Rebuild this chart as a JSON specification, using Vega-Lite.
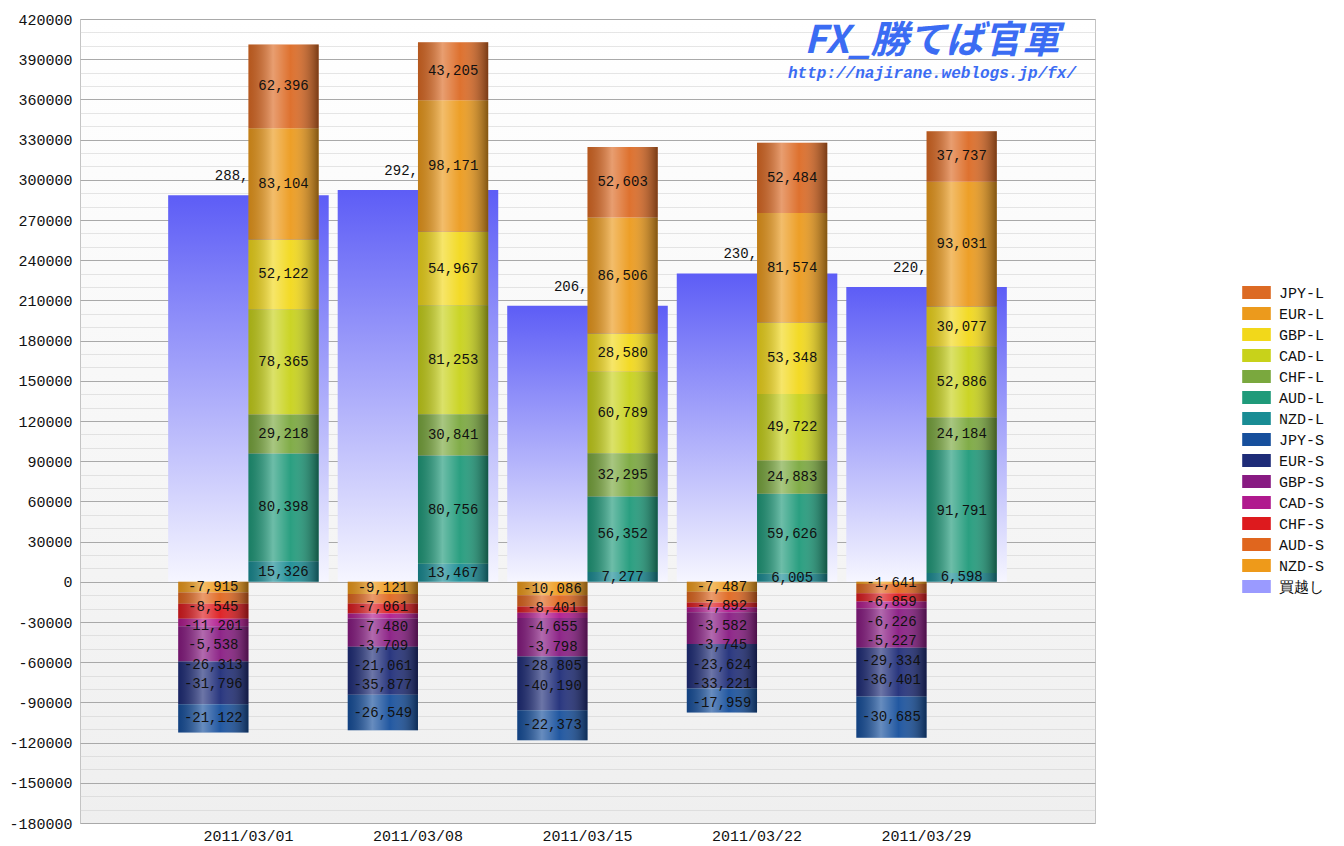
{
  "$schema": "https://vega.github.io/schema/vega-lite/v6.json",
  "autosize": "none",
  "width": 1015,
  "height": 804,
  "padding": {"left": 80, "top": 19, "right": 249, "bottom": 23},
  "background": "white",
  "title": {
    "text": "FX_勝てば官軍",
    "subtitle": "http://najirane.weblogs.jp/fx/",
    "anchor": "end",
    "align": "center",
    "frame": "group",
    "orient": "top",
    "dx": -163,
    "offset": -69,
    "font": "Noto Sans CJK JP",
    "fontSize": 38,
    "fontWeight": "bold",
    "fontStyle": "italic",
    "color": "#3b6cf3",
    "subtitleFont": "Liberation Mono",
    "subtitleFontSize": 16,
    "subtitleFontWeight": "bold",
    "subtitleFontStyle": "italic",
    "subtitleColor": "#3b6cf3",
    "subtitlePadding": 4
  },
  "datasets": {
    "net": [
      {"date": "2011/03/01", "value": 288499},
      {"date": "2011/03/08", "value": 292402},
      {"date": "2011/03/15", "value": 206094},
      {"date": "2011/03/22", "value": 230132},
      {"date": "2011/03/29", "value": 220031}
    ],
    "keys": [
      {"series": "NZD-L", "side": "L", "k": 1},
      {"series": "AUD-L", "side": "L", "k": 2},
      {"series": "CHF-L", "side": "L", "k": 3},
      {"series": "CAD-L", "side": "L", "k": 4},
      {"series": "GBP-L", "side": "L", "k": 5},
      {"series": "EUR-L", "side": "L", "k": 6},
      {"series": "JPY-L", "side": "L", "k": 7},
      {"series": "NZD-S", "side": "S", "k": 1},
      {"series": "AUD-S", "side": "S", "k": 2},
      {"series": "CHF-S", "side": "S", "k": 3},
      {"series": "CAD-S", "side": "S", "k": 4},
      {"series": "GBP-S", "side": "S", "k": 5},
      {"series": "EUR-S", "side": "S", "k": 6},
      {"series": "JPY-S", "side": "S", "k": 7}
    ],
    "fx": [
      {"date": "2011/03/01", "series": "NZD-L", "value": 15326},
      {"date": "2011/03/01", "series": "AUD-L", "value": 80398},
      {"date": "2011/03/01", "series": "CHF-L", "value": 29218},
      {"date": "2011/03/01", "series": "CAD-L", "value": 78365},
      {"date": "2011/03/01", "series": "GBP-L", "value": 52122},
      {"date": "2011/03/01", "series": "EUR-L", "value": 83104},
      {"date": "2011/03/01", "series": "JPY-L", "value": 62396},
      {"date": "2011/03/01", "series": "NZD-S", "value": -7915},
      {"date": "2011/03/01", "series": "AUD-S", "value": -8545},
      {"date": "2011/03/01", "series": "CHF-S", "value": -11201},
      {"date": "2011/03/01", "series": "CAD-S", "value": -5538},
      {"date": "2011/03/01", "series": "GBP-S", "value": -26313},
      {"date": "2011/03/01", "series": "EUR-S", "value": -31796},
      {"date": "2011/03/01", "series": "JPY-S", "value": -21122},
      {"date": "2011/03/08", "series": "NZD-L", "value": 13467},
      {"date": "2011/03/08", "series": "AUD-L", "value": 80756},
      {"date": "2011/03/08", "series": "CHF-L", "value": 30841},
      {"date": "2011/03/08", "series": "CAD-L", "value": 81253},
      {"date": "2011/03/08", "series": "GBP-L", "value": 54967},
      {"date": "2011/03/08", "series": "EUR-L", "value": 98171},
      {"date": "2011/03/08", "series": "JPY-L", "value": 43205},
      {"date": "2011/03/08", "series": "NZD-S", "value": -9121},
      {"date": "2011/03/08", "series": "AUD-S", "value": -7061},
      {"date": "2011/03/08", "series": "CHF-S", "value": -7480},
      {"date": "2011/03/08", "series": "CAD-S", "value": -3709},
      {"date": "2011/03/08", "series": "GBP-S", "value": -21061},
      {"date": "2011/03/08", "series": "EUR-S", "value": -35877},
      {"date": "2011/03/08", "series": "JPY-S", "value": -26549},
      {"date": "2011/03/15", "series": "NZD-L", "value": 7277},
      {"date": "2011/03/15", "series": "AUD-L", "value": 56352},
      {"date": "2011/03/15", "series": "CHF-L", "value": 32295},
      {"date": "2011/03/15", "series": "CAD-L", "value": 60789},
      {"date": "2011/03/15", "series": "GBP-L", "value": 28580},
      {"date": "2011/03/15", "series": "EUR-L", "value": 86506},
      {"date": "2011/03/15", "series": "JPY-L", "value": 52603},
      {"date": "2011/03/15", "series": "NZD-S", "value": -10086},
      {"date": "2011/03/15", "series": "AUD-S", "value": -8401},
      {"date": "2011/03/15", "series": "CHF-S", "value": -4655},
      {"date": "2011/03/15", "series": "CAD-S", "value": -3798},
      {"date": "2011/03/15", "series": "GBP-S", "value": -28805},
      {"date": "2011/03/15", "series": "EUR-S", "value": -40190},
      {"date": "2011/03/15", "series": "JPY-S", "value": -22373},
      {"date": "2011/03/22", "series": "NZD-L", "value": 6005},
      {"date": "2011/03/22", "series": "AUD-L", "value": 59626},
      {"date": "2011/03/22", "series": "CHF-L", "value": 24883},
      {"date": "2011/03/22", "series": "CAD-L", "value": 49722},
      {"date": "2011/03/22", "series": "GBP-L", "value": 53348},
      {"date": "2011/03/22", "series": "EUR-L", "value": 81574},
      {"date": "2011/03/22", "series": "JPY-L", "value": 52484},
      {"date": "2011/03/22", "series": "NZD-S", "value": -7487},
      {"date": "2011/03/22", "series": "AUD-S", "value": -7892},
      {"date": "2011/03/22", "series": "CHF-S", "value": -3582},
      {"date": "2011/03/22", "series": "CAD-S", "value": -3745},
      {"date": "2011/03/22", "series": "GBP-S", "value": -23624},
      {"date": "2011/03/22", "series": "EUR-S", "value": -33221},
      {"date": "2011/03/22", "series": "JPY-S", "value": -17959},
      {"date": "2011/03/29", "series": "NZD-L", "value": 6598},
      {"date": "2011/03/29", "series": "AUD-L", "value": 91791},
      {"date": "2011/03/29", "series": "CHF-L", "value": 24184},
      {"date": "2011/03/29", "series": "CAD-L", "value": 52886},
      {"date": "2011/03/29", "series": "GBP-L", "value": 30077},
      {"date": "2011/03/29", "series": "EUR-L", "value": 93031},
      {"date": "2011/03/29", "series": "JPY-L", "value": 37737},
      {"date": "2011/03/29", "series": "NZD-S", "value": -1641},
      {"date": "2011/03/29", "series": "AUD-S", "value": -6859},
      {"date": "2011/03/29", "series": "CHF-S", "value": -6226},
      {"date": "2011/03/29", "series": "CAD-S", "value": -5227},
      {"date": "2011/03/29", "series": "GBP-S", "value": -29334},
      {"date": "2011/03/29", "series": "EUR-S", "value": -36401},
      {"date": "2011/03/29", "series": "JPY-S", "value": -30685}
    ]
  },
  "resolve": {"axis": {"y": "independent"}},
  "layer": [
    {
      "data": {"name": "net"},
      "mark": {
        "type": "bar",
        "fill": {
          "gradient": "linear", "x1": 0, "y1": 0, "x2": 0, "y2": 1,
          "stops": [
            {"offset": 0, "color": "#5d5df6"},
            {"offset": 1, "color": "#f6f6ff"}
          ]
        }
      },
      "encoding": {
        "x": {
          "field": "date", "type": "nominal", "title": null,
          "scale": {"paddingInner": 0.053, "paddingOuter": 0.52},
          "axis": {
            "ticks": false, "domain": false, "labelAngle": 0, "labelPadding": 5,
            "labelFont": "Liberation Mono", "labelFontSize": 15, "labelColor": "#111"
          }
        },
        "y": {
          "field": "value", "type": "quantitative", "title": null,
          "scale": {"domain": [-180000, 420000], "nice": false},
          "axis": {
            "orient": "left",
            "values": [-180000, -170000, -160000, -150000, -140000, -130000, -120000, -110000, -100000, -90000, -80000, -70000, -60000, -50000, -40000, -30000, -20000, -10000, 0, 10000, 20000, 30000, 40000, 50000, 60000, 70000, 80000, 90000, 100000, 110000, 120000, 130000, 140000, 150000, 160000, 170000, 180000, 190000, 200000, 210000, 220000, 230000, 240000, 250000, 260000, 270000, 280000, 290000, 300000, 310000, 320000, 330000, 340000, 350000, 360000, 370000, 380000, 390000, 400000, 410000, 420000],
            "format": "d",
            "labelExpr": "datum.value % 30000 === 0 ? datum.label : ''",
            "labelOverlap": false, "labelFlush": false,
            "ticks": false, "domain": false, "labelPadding": 8,
            "labelFont": "Liberation Mono", "labelFontSize": 15, "labelColor": "#111",
            "grid": true,
            "gridColor": {"condition": {"test": "datum.value % 30000 === 0", "value": "#a9a9a9"}, "value": "#cdcdcd"},
            "gridDash": {"condition": {"test": "datum.value % 30000 === 0", "value": []}, "value": [1, 1]}
          }
        }
      }
    },
    {
      "data": {"name": "net"},
      "transform": [
        {"calculate": "substring(format(datum.value, ','), 0, 4)", "as": "shown"}
      ],
      "mark": {"type": "text", "align": "right", "baseline": "bottom", "dy": -12, "font": "Liberation Mono", "fontSize": 14, "color": "#111"},
      "encoding": {
        "x": {"field": "date", "type": "nominal", "title": null},
        "y": {"field": "value", "type": "quantitative", "axis": null},
        "text": {"field": "shown", "type": "nominal"}
      }
    },
    {
      "data": {"name": "fx"},
      "transform": [
        {"lookup": "series", "from": {"data": {"name": "keys"}, "key": "series", "fields": ["side", "k"]}},
        {"stack": "value", "groupby": ["date", "side"], "sort": [{"field": "k", "order": "ascending"}], "as": ["v0", "v1"]},
        {"calculate": "(datum.v0 + datum.v1) / 2", "as": "mid"}
      ],
      "encoding": {
        "x": {"field": "date", "type": "nominal", "title": null},
        "xOffset": {"field": "side", "type": "nominal", "scale": {"domain": ["S", "L"], "paddingInner": 0, "paddingOuter": 0.143}}
      },
      "layer": [
        {
          "mark": {"type": "bar"},
          "encoding": {
            "y": {
              "field": "v0", "type": "quantitative", "title": null,
              "axis": {
                "orient": "right",
                "values": [-180000, -120000, -60000, 0, 60000, 120000, 180000, 240000, 300000, 360000, 420000],
                "format": "d", "grid": false, "ticks": false, "domain": false, "labelPadding": 4,
                "labelFont": "Liberation Mono", "labelFontSize": 15, "labelColor": "#111"
              }
            },
            "y2": {"field": "v1"},
            "color": {
              "field": "series", "type": "nominal",
              "scale": {
                "domain": ["JPY-L", "EUR-L", "GBP-L", "CAD-L", "CHF-L", "AUD-L", "NZD-L", "JPY-S", "EUR-S", "GBP-S", "CAD-S", "CHF-S", "AUD-S", "NZD-S", "買越し"],
                "range": ["#dc6a24", "#ec9a1c", "#f2d81a", "#c8d21a", "#7aa83e", "#1f9a7a", "#198c94", "#164f9c", "#1e2c78", "#881a82", "#b0198e", "#dd1a1e", "#e0661e", "#ee9a1a", "#9a9aff"]
              },
              "legend": {
                "orient": "none", "legendX": 1169, "legendY": 266, "title": null,
                "symbolType": "M-2.2,-1H2.2V1H-2.2Z", "symbolSize": 169, "symbolStrokeWidth": 0,
                "labelFont": "Liberation Mono", "labelFontSize": 15, "labelColor": "#111",
                "labelOffset": 15, "rowPadding": 5
              }
            }
          }
        },
        {
          "mark": {
            "type": "bar",
            "fill": {
              "gradient": "linear", "x1": 0, "y1": 0, "x2": 1, "y2": 0,
              "stops": [
                {"offset": 0, "color": "rgba(0,0,0,0.18)"},
                {"offset": 0.35, "color": "rgba(255,255,255,0.35)"},
                {"offset": 0.6, "color": "rgba(255,255,255,0.05)"},
                {"offset": 1, "color": "rgba(0,0,0,0.45)"}
              ]
            }
          },
          "encoding": {
            "y": {"field": "v0", "type": "quantitative", "axis": null},
            "y2": {"field": "v1"}
          }
        },
        {
          "transform": [
            {"calculate": "datum.mid + datum.k * 14500", "as": "push"},
            {"window": [{"op": "min", "field": "push", "as": "pushMin"}], "groupby": ["date", "side"], "sort": [{"field": "k", "order": "ascending"}], "frame": [null, 0]},
            {"calculate": "datum.side === 'S' ? datum.pushMin - datum.k * 14500 : datum.mid", "as": "labelPos"}
          ],
          "mark": {"type": "text", "font": "Liberation Mono", "fontSize": 14, "color": "#111"},
          "encoding": {
            "y": {"field": "labelPos", "type": "quantitative", "axis": null},
            "text": {"field": "value", "type": "quantitative", "format": ","}
          }
        }
      ]
    }
  ],
  "config": {
    "locale": {"number": {"decimal": ".", "thousands": ",", "grouping": [3], "currency": ["$", ""], "minus": "-"}},
    "view": {
      "stroke": "#c4c4c4",
      "fill": {
        "gradient": "linear", "x1": 0, "y1": 0, "x2": 0, "y2": 1,
        "stops": [
          {"offset": 0, "color": "#ffffff"},
          {"offset": 1, "color": "#efefef"}
        ]
      }
    }
  }
}
